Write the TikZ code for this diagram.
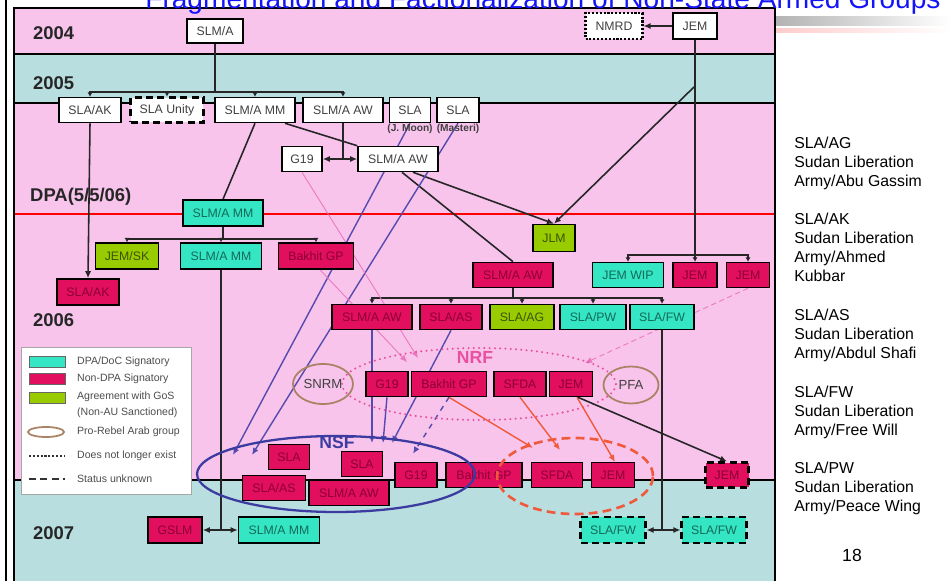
\documentclass[tikz,border=0pt]{standalone}
\usepackage{fontspec}
\setmainfont{Liberation Sans}
\usetikzlibrary{arrows.meta,shapes.geometric,calc}
\definecolor{pinkband}{RGB}{248,196,236}
\definecolor{blueband}{RGB}{184,222,224}
\definecolor{redbox}{RGB}{226,14,94}
\definecolor{redtxt}{RGB}{140,0,55}
\definecolor{cyanbox}{RGB}{52,230,196}
\definecolor{cyantxt}{RGB}{20,105,90}
\definecolor{greenbox}{RGB}{153,204,0}
\definecolor{greentxt}{RGB}{60,82,0}
\definecolor{boxtxt}{RGB}{64,64,64}
\definecolor{blueln}{RGB}{85,75,175}
\definecolor{nsfblue}{RGB}{60,60,160}
\definecolor{pinkln}{RGB}{235,120,190}
\definecolor{nrfpink}{RGB}{232,80,160}
\definecolor{orangeln}{RGB}{240,90,60}
\definecolor{arabbrown}{RGB}{170,130,100}
\definecolor{titleblue}{RGB}{20,20,250}
\pgfdeclarelayer{bg}
\pgfdeclarelayer{wires}
\pgfsetlayers{bg,wires,main}
\begin{document}
\begin{tikzpicture}[x=0.02cm,y=-0.02cm,>={Latex[length=4pt,width=3.5pt]},
  box/.style={draw=black,line width=0.9pt,minimum height=0.5cm,inner sep=1pt,font=\fontsize{7}{8}\selectfont},
  wbox/.style={box,fill=white,text=boxtxt},
  rbox/.style={box,fill=redbox,text=redtxt},
  cbox/.style={box,fill=cyanbox,text=cyantxt},
  gbox/.style={box,fill=greenbox,text=greentxt},
  gone/.style={line width=1.2pt,densely dotted},
  unsure/.style={line width=1.2pt,dash pattern=on 4pt off 2.5pt},
  arab/.style={ellipse,draw=arabbrown,line width=1pt,inner sep=0pt,text=boxtxt,font=\fontsize{7.5}{9}\selectfont},
  year/.style={anchor=west,font=\fontsize{10.5}{12}\selectfont\bfseries,text=black!85},
  wire/.style={line width=0.9pt,black!85},
  twig/.style={wire,-{Latex[length=2.5pt,width=3pt]}},
  blu/.style={line width=0.8pt,blueln,->},
  pnk/.style={line width=0.5pt,pinkln,->},
  org/.style={line width=0.8pt,orangeln,->},
  notes/.style={anchor=north west,inner sep=0pt,align=left,font=\fontsize{9}{10.8}\selectfont},
  legtxt/.style={anchor=west,font=\fontsize{6}{7}\selectfont,text=black!70}]
\useasboundingbox (0,0) rectangle (951,581);

% slide and year bands
\begin{pgfonlayer}{bg}
\fill[white] (0,0) rectangle (951,581);
\shade[left color=black!30,right color=white] (775,17) rectangle (951,26);
\shade[left color=red!20,right color=white] (775,29) rectangle (951,33);
\fill[pinkband] (14,8) rectangle (775,54);
\fill[blueband] (14,54) rectangle (775,103);
\fill[pinkband] (14,103) rectangle (775,480);
\fill[blueband] (14,480) rectangle (775,600);
\draw[line width=1pt] (14,54) -- (775,54);
\draw[line width=1pt] (14,103) -- (775,103);
\draw[line width=1pt] (14,480) -- (775,480);
\draw[line width=1.2pt,red] (14,214) -- (775,214);
\draw[line width=1.4pt] (14,600) |- (775,8) -- (775,600);
\draw[line width=1.6pt] (6,0) -- (6,581);
\end{pgfonlayer}

\node[anchor=base,font=\fontsize{16}{18}\selectfont,text=titleblue] (title) at (543,9) {Fragmentation and Factionalization of Non-State Armed Groups};

\node[year] (y04) at (27,33) {2004};
\node[year] (y05) at (27,83) {2005};
\node[year] (dpa) at (24,197) {DPA(5/5/06)};
\node[year] (y06) at (27,320) {2006};
\node[year] (y07) at (27,533) {2007};

% 2004
\node[wbox,minimum width=1.12cm,minimum height=0.48cm] (slma) at (215,31) {SLM/A};
\node[wbox,gone,minimum width=1.14cm,minimum height=0.52cm] (nmrd) at (614,26) {NMRD};
\node[wbox,line width=1.4pt,minimum width=0.88cm,minimum height=0.52cm] (jem0) at (695,26) {JEM};

% 2005
\node[wbox,minimum width=1.24cm] (slaak0) at (90,110) {SLA/AK};
\node[wbox,unsure,minimum width=1.46cm] (unity) at (167,110) {SLA Unity};
\node[wbox,minimum width=1.6cm] (mm0) at (255,110) {SLM/A MM};
\node[wbox,minimum width=1.6cm] (aw0) at (343,110) {SLM/A AW};
\node[wbox,minimum width=0.82cm] (jmoon) at (410,110) {SLA};
\node[wbox,minimum width=0.84cm] (masteri) at (458,110) {SLA};
\node[font=\fontsize{5.8}{7}\selectfont\bfseries,text=boxtxt] (lbljm) at (410,129) {(J. Moon)};
\node[font=\fontsize{5.8}{7}\selectfont\bfseries,text=boxtxt] (lblma) at (458,129) {(Masteri)};
\node[wbox,minimum width=0.8cm] (g19w) at (302,159) {G19};
\node[wbox,minimum width=1.6cm] (aw1) at (398,159) {SLM/A AW};

% 2006
\node[cbox,minimum width=1.6cm,minimum height=0.52cm] (mmc) at (223,213) {SLM/A MM};
\node[gbox,minimum width=1.26cm,minimum height=0.52cm] (jemsk) at (127,256) {JEM/SK};
\node[cbox,minimum width=1.62cm,minimum height=0.52cm] (mmc2) at (221,256) {SLM/A MM};
\node[rbox,minimum width=1.5cm,minimum height=0.52cm] (bakhit0) at (316,256) {Bakhit GP};
\node[rbox,minimum width=1.24cm,minimum height=0.52cm] (slaak1) at (88,292) {SLA/AK};
\node[gbox,minimum width=0.84cm,minimum height=0.54cm] (jlm) at (554,238) {JLM};
\node[rbox,minimum width=1.6cm] (aw2) at (513,275) {SLM/A AW};
\node[cbox,minimum width=1.42cm] (jemwip) at (628,275) {JEM WIP};
\node[rbox,minimum width=0.88cm] (jem1) at (695,275) {JEM};
\node[rbox,minimum width=0.86cm] (jem2) at (748,275) {JEM};

\node[rbox,minimum width=1.6cm] (aw3) at (372,317) {SLM/A AW};
\node[rbox,minimum width=1.24cm] (slaas0) at (451,317) {SLA/AS};
\node[gbox,minimum width=1.28cm] (slaag) at (522,317) {SLA/AG};
\node[cbox,minimum width=1.32cm] (slapw) at (593,317) {SLA/PW};
\node[cbox,minimum width=1.28cm] (slafw0) at (662,317) {SLA/FW};

% NRF
\node[arab,minimum width=1.2cm,minimum height=0.8cm] (snrm) at (323,384) {SNRM};
\node[rbox,minimum width=0.84cm] (g19n) at (387,384) {G19};
\node[rbox,minimum width=1.5cm] (bakn) at (449,384) {Bakhit GP};
\node[rbox,minimum width=1.04cm] (sfdan) at (520,384) {SFDA};
\node[rbox,minimum width=0.86cm] (jemn) at (571,384) {JEM};
\node[arab,minimum width=1.1cm,minimum height=0.74cm] (pfa) at (631,385) {PFA};
\node[font=\fontsize{10}{12}\selectfont\bfseries,text=nrfpink] (nrf) at (475,357) {NRF};

% NSF
\node[rbox,minimum width=0.82cm] (sla1) at (289,457) {SLA};
\node[rbox,minimum width=0.82cm] (sla2) at (362,464) {SLA};
\node[rbox,minimum width=1.26cm] (slaas1) at (274,488) {SLA/AS};
\node[rbox,minimum width=1.6cm] (aw4) at (349,493) {SLM/A AW};
\node[rbox,minimum width=0.84cm] (g19s) at (416,475) {G19};
\node[rbox,minimum width=1.52cm] (baks) at (484,475) {Bakhit GP};
\node[rbox,minimum width=1.02cm] (sfdas) at (557,475) {SFDA};
\node[rbox,minimum width=0.86cm] (jems) at (613,475) {JEM};
\node[rbox,unsure,minimum width=0.86cm] (jemd) at (727,475) {JEM};
\node[font=\fontsize{10}{12}\selectfont\bfseries,text=nsfblue] (nsf) at (337,442) {NSF};

% 2007
\node[rbox,minimum width=1.08cm,minimum height=0.52cm] (gslm) at (175,530) {GSLM};
\node[cbox,minimum width=1.62cm,minimum height=0.52cm] (mm3) at (279,530) {SLM/A MM};
\node[cbox,unsure,minimum width=1.3cm,minimum height=0.52cm] (fwl) at (613,530) {SLA/FW};
\node[cbox,unsure,minimum width=1.3cm,minimum height=0.52cm] (fwr) at (714,530) {SLA/FW};

% free ends
\coordinate (bar1) at (0,92);
\coordinate (barm) at (0,239);
\coordinate (barj) at (0,255);
\coordinate (bara) at (0,298);
\coordinate (jsplit) at (694,87);
\coordinate (nsfa) at (233,455);
\coordinate (nsfb) at (252,455);
\coordinate (nsfc) at (0,443);
\coordinate (nrfa) at (418,358);
\coordinate (nrfb) at (407,362);
\coordinate (nrfc) at (585,363);
\coordinate (ora) at (533,448);
\coordinate (orb) at (560,450);
\coordinate (orc) at (615,462);

\begin{pgfonlayer}{wires}
\draw[wire] (slma.south) -- (slma |- bar1);
\foreach \c in {slaak0,unity,mm0,aw0}{
\draw[twig] (slma |- bar1) -| (\c.north);
}
\draw[wire,->] (jem0.west) -- (nmrd.east);
\draw[wire] (jem0.south) -- (jem0 |- barj);
\foreach \c in {jemwip,jem1,jem2}{
\draw[twig] (jem0 |- barj) -| (\c.north);
}
\draw[wire,->] (jsplit) -- (jlm.north);
\draw[wire,->] ($(aw1.south)+(15,0)$) -- (jlm.north);
\draw[wire] ($(aw1.south)+(4,0)$) -- (aw2.north);
\draw[wire] ($(mm0.south)+(30,0)$) -- (aw1.north west);
\draw[wire] (mm0.south) -- (mmc.north);
\draw[wire] (aw0.south) -- (aw0 |- g19w);
\draw[wire,<->] (g19w.east) -- (aw1.west);
\draw[wire,->] (slaak0.south) -- (slaak1.north);
\draw[wire] (mmc.south) -- (mmc |- barm);
\foreach \c in {jemsk,mmc2,bakhit0}{
\draw[twig] (mmc |- barm) -| (\c.north);
}
\draw[wire] (mmc2.south) -- (mmc2 |- gslm);
\draw[wire,<->] (gslm.east) -- (mm3.west);
\draw[wire] (aw2.south) -- (aw2 |- bara);
\foreach \c in {aw3,slaas0,slaag,slapw,slafw0}{
\draw[twig] (aw2 |- bara) -| (\c.north);
}
\draw[wire] (slafw0.south) -- (slafw0 |- fwl);
\draw[wire,<->] (fwl.east) -- (fwr.west);
% into the NSF
\draw[blu] (jmoon.south) -- (nsfa);
\draw[blu] (masteri.south) -- (nsfb);
\draw[blu] (aw3.south) -- (aw3.south |- nsfc);
\draw[blu] (g19n.south) -- ($(g19n.south |- nsfc)+(-4,0)$);
\draw[blu] (slaas0.south) -- ($(g19n.south |- nsfc)+(5,0)$);
\draw[blu,dashed] (bakn.south) -- ($(g19s.north)+(-3,-8)$);
% into the NRF
\draw[pnk] (g19w.south) -- (nrfa);
\draw[pnk] ($(bakhit0.south)+(4,0)$) -- (nrfb);
\draw[pnk,densely dashed] (jem2.south) -- (nrfc);
\draw[nrfpink,line width=1.3pt,dash pattern=on 0pt off 3pt,line cap=round] (479,384) ellipse [x radius=2.74cm,y radius=0.72cm];
\draw[org] (bakn.south) -- (ora);
\draw[org] (sfdan.south) -- (orb);
\draw[org] ($(jemn.south)+(6,0)$) -- (orc);
\draw[wire,->] ($(jemn.south)+(7,0)$) -- (jemd.north);
\end{pgfonlayer}

\draw[nsfblue,line width=1.3pt] (336,474) ellipse [x radius=2.78cm,y radius=0.76cm];
\draw[orangeln,line width=1.5pt,dash pattern=on 5pt off 3pt] (575,476) ellipse [x radius=1.56cm,y radius=0.76cm];

% legend
\draw[black!35,fill=white] (21,347) rectangle (191,494);
\draw[black!60,fill=cyanbox] (29,356) rectangle (65,367);
\draw[black!60,fill=redbox] (29,373) rectangle (65,384);
\draw[black!60,fill=greenbox] (29,392) rectangle (65,403);
\draw[arabbrown,line width=1pt] (46,432) ellipse [x radius=0.36cm,y radius=0.1cm];
\draw[black!80,gone] (29,456) -- (65,456);
\draw[black!80,unsure] (29,479) -- (65,479);
\node[legtxt] (l1) at (71,362) {DPA/DoC Signatory};
\node[legtxt] (l2) at (71,379) {Non-DPA Signatory};
\node[legtxt] (l3) at (71,397) {Agreement with GoS};
\node[legtxt] (l4) at (71,413) {(Non-AU Sanctioned)};
\node[legtxt] (l5) at (71,432) {Pro-Rebel Arab group};
\node[legtxt] (l6) at (71,456) {Does not longer exist};
\node[legtxt] (l7) at (71,479) {Status unknown};

% glossary
\node[notes] (nag) at (794,137) {SLA/AG\\Sudan Liberation\\Army/Abu Gassim};
\node[notes] (nak) at (794,213) {SLA/AK\\Sudan Liberation\\Army/Ahmed\\Kubbar};
\node[notes] (nas) at (794,309) {SLA/AS\\Sudan Liberation\\Army/Abdul Shafi};
\node[notes] (nfw) at (794,386) {SLA/FW\\Sudan Liberation\\Army/Free Will};
\node[notes] (npw) at (794,462) {SLA/PW\\Sudan Liberation\\Army/Peace Wing};
\node[font=\fontsize{10}{12}\selectfont] (pageno) at (852,555) {18};
\end{tikzpicture}
\end{document}
